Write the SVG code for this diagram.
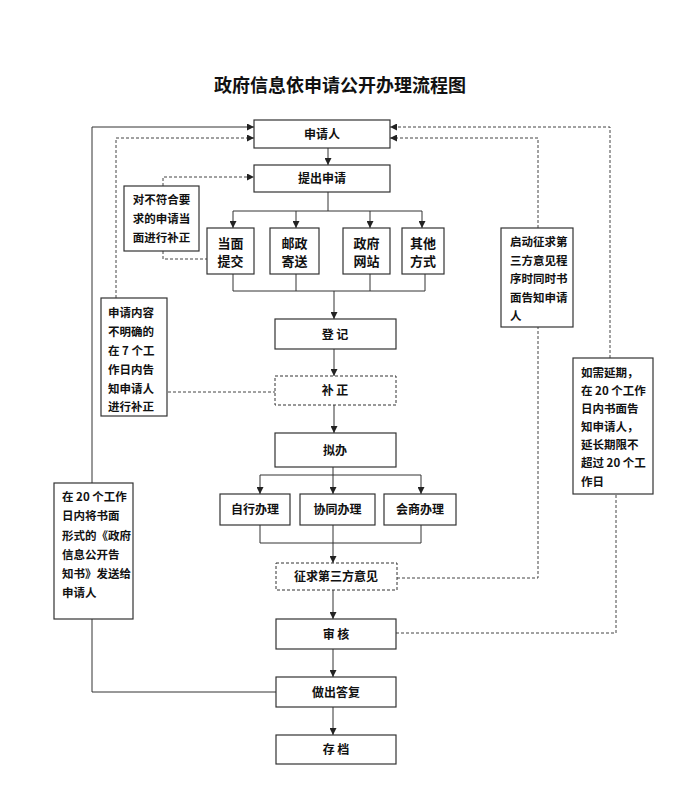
<svg xmlns="http://www.w3.org/2000/svg" width="675" height="800" viewBox="0 0 675 800">
<defs>
<marker id="ar" viewBox="0 0 8 8" refX="8" refY="4" markerWidth="7" markerHeight="7" markerUnits="userSpaceOnUse" orient="auto">
<path d="M0,0 L8,4 L0,8 z" fill="#222"/>
</marker>
<style>
.b{fill:#fff;stroke:#333;stroke-width:1.2}
.d{fill:#fff;stroke:#333;stroke-width:1;stroke-dasharray:3,2}
.t{font-family:"Noto Sans CJK SC","Noto Sans",sans-serif;font-weight:bold;font-size:12px;fill:#111}
.s{font-family:"Noto Sans CJK SC","Noto Sans",sans-serif;font-weight:bold;font-size:11.5px;fill:#111}
.c{text-anchor:middle}
.l{fill:none;stroke:#333;stroke-width:1}
.ld{fill:none;stroke:#444;stroke-width:1;stroke-dasharray:3,2}
</style>
</defs>
<rect width="675" height="800" fill="#fff"/>
<text x="340" y="92" class="c" style="font-family:'Noto Sans CJK SC',sans-serif;font-weight:bold;font-size:18px;fill:#111">政府信息依申请公开办理流程图</text>

<g id="connectors">
<path class="l" d="M328,148 V165" marker-end="url(#ar)"/>
<path class="l" d="M328,192 V211 M233,211 H422"/>
<path class="l" d="M233,211 V228" marker-end="url(#ar)"/>
<path class="l" d="M296,211 V228" marker-end="url(#ar)"/>
<path class="l" d="M370,211 V228" marker-end="url(#ar)"/>
<path class="l" d="M422,211 V228" marker-end="url(#ar)"/>
<path class="l" d="M233,274 V291 M296,274 V291 M370,274 V291 M425,274 V291 M233,291 H425"/>
<path class="l" d="M334,291 V319" marker-end="url(#ar)"/>
<path class="l" d="M334,349 V376" marker-end="url(#ar)"/>
<path class="l" d="M334,405 V433" marker-end="url(#ar)"/>
<path class="l" d="M333,467 V475 M260,475 H421"/>
<path class="l" d="M260,475 V494" marker-end="url(#ar)"/>
<path class="l" d="M333,475 V494" marker-end="url(#ar)"/>
<path class="l" d="M421,475 V494" marker-end="url(#ar)"/>
<path class="l" d="M260,525 V543 M421,525 V543 M260,543 H421 M333,525 V543"/>
<path class="l" d="M333,543 V563" marker-end="url(#ar)"/>
<path class="l" d="M333,590 V619" marker-end="url(#ar)"/>
<path class="l" d="M333,649 V677" marker-end="url(#ar)"/>
<path class="l" d="M333,707 V735" marker-end="url(#ar)"/>
<path class="l" d="M276,692 H92 V619"/>
<path class="l" d="M92,483 V127 H254" marker-end="url(#ar)"/>
<path class="ld" d="M116,298 V138 H254" marker-end="url(#ar)"/>
<path class="ld" d="M276,392 H167"/>
<path class="ld" d="M163,186 V177 H254" marker-end="url(#ar)"/>
<path class="ld" d="M163,251 V259 H207"/>
<path class="ld" d="M397,578 H538 V327"/>
<path class="ld" d="M538,228 V138 H390" marker-end="url(#ar)"/>
<path class="ld" d="M396,633 H616 V494"/>
<path class="ld" d="M610,358 V127 H390" marker-end="url(#ar)"/>
</g>

<g id="n-applicant"><rect class="b" x="254" y="120" width="136" height="28"/><text x="322" y="138.5" class="t c">申请人</text></g>
<g id="n-submit"><rect class="b" x="254" y="165" width="136" height="27"/><text x="322" y="183" class="t c">提出申请</text></g>
<g id="n-face"><rect class="b" x="207" y="228" width="47" height="46"/><text x="230.5" y="248" class="t c" style="font-size:13px">当面</text><text x="230.5" y="266" class="t c" style="font-size:13px">提交</text></g>
<g id="n-post"><rect class="b" x="270" y="228" width="49" height="46"/><text x="294.5" y="248" class="t c" style="font-size:13px">邮政</text><text x="294.5" y="266" class="t c" style="font-size:13px">寄送</text></g>
<g id="n-web"><rect class="b" x="343" y="228" width="47" height="46"/><text x="366.5" y="248" class="t c" style="font-size:13px">政府</text><text x="366.5" y="266" class="t c" style="font-size:13px">网站</text></g>
<g id="n-other"><rect class="b" x="402" y="228" width="42" height="46"/><text x="423" y="248" class="t c" style="font-size:13px">其他</text><text x="423" y="266" class="t c" style="font-size:13px">方式</text></g>
<g id="n-correct1"><rect class="b" x="124" y="186" width="75" height="65"/>
<text x="161.5" y="204" class="s c">对不符合要</text><text x="161.5" y="223" class="s c">求的申请当</text><text x="161.5" y="242" class="s c">面进行补正</text></g>
<g id="n-register"><rect class="b" x="275" y="319" width="121" height="30"/><text x="335" y="338.5" class="t c">登 记</text></g>
<g id="n-correct2"><rect class="d" x="275" y="376" width="121" height="29"/><text x="335" y="395" class="t c">补 正</text></g>
<g id="n-unclear"><rect class="b" x="101" y="298" width="66" height="118"/>
<text x="108" y="317" class="s">申请内容</text><text x="108" y="336" class="s">不明确的</text><text x="108" y="355" class="s">在 7 个工</text><text x="108" y="374" class="s">作日内告</text><text x="108" y="393" class="s">知申请人</text><text x="108" y="411" class="s">进行补正</text></g>
<g id="n-draft"><rect class="b" x="275" y="433" width="121" height="34"/><text x="335" y="454.5" class="t c">拟办</text></g>
<g id="n-self"><rect class="b" x="220" y="494" width="70" height="31"/><text x="255" y="514" class="t c">自行办理</text></g>
<g id="n-coop"><rect class="b" x="300" y="494" width="75" height="31"/><text x="337.5" y="514" class="t c">协同办理</text></g>
<g id="n-consult"><rect class="b" x="384" y="494" width="72" height="31"/><text x="420" y="514" class="t c">会商办理</text></g>
<g id="n-third"><rect class="d" x="276" y="563" width="121" height="27"/><text x="336" y="581" class="t c">征求第三方意见</text></g>
<g id="n-start"><rect class="b" x="501" y="228" width="72" height="99"/>
<text x="510" y="246" class="s">启动征求第</text><text x="510" y="265" class="s">三方意见程</text><text x="510" y="283" class="s">序时同时书</text><text x="510" y="302" class="s">面告知申请</text><text x="510" y="320" class="s">人</text></g>
<g id="n-extend"><rect class="b" x="573" y="358" width="80" height="136"/>
<text x="581" y="377" class="s">如需延期，</text><text x="581" y="395" class="s">在 20 个工作</text><text x="581" y="413" class="s">日内书面告</text><text x="581" y="431" class="s">知申请人，</text><text x="581" y="449" class="s">延长期限不</text><text x="581" y="467" class="s">超过 20 个工</text><text x="581" y="486" class="s">作日</text></g>
<g id="n-review"><rect class="b" x="276" y="619" width="120" height="30"/><text x="336" y="638.5" class="t c">审 核</text></g>
<g id="n-notify"><rect class="b" x="54" y="483" width="79" height="136"/>
<text x="62" y="501" class="s">在 20 个工作</text><text x="62" y="520" class="s">日内将书面</text><text x="62" y="540" class="s">形式的《政府</text><text x="62" y="559" class="s">信息公开告</text><text x="62" y="578" class="s">知书》发送给</text><text x="62" y="597" class="s">申请人</text></g>
<g id="n-reply"><rect class="b" x="276" y="677" width="120" height="30"/><text x="336" y="696.5" class="t c">做出答复</text></g>
<g id="n-archive"><rect class="b" x="276" y="735" width="120" height="29"/><text x="336" y="754" class="t c">存 档</text></g>
</svg>
